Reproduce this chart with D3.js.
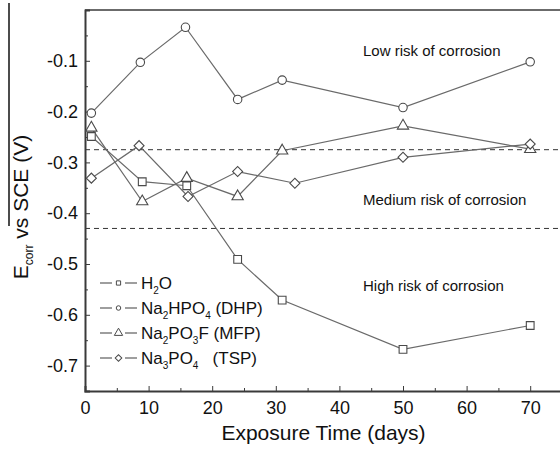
<!DOCTYPE html>
<html>
<head>
<meta charset="utf-8">
<script src="https://cdn.jsdelivr.net/npm/d3@7"></script>
<style>
  body { margin: 0; background: #fff; }
  svg { font-family: Arial, "Liberation Sans", sans-serif; }
</style>
</head>
<body>
<div id="chart"></div>
<script>
// Corrosion potential vs exposure time
const h2oDays = [1, 9, 16, 24, 31, 50, 70];
const h2oE = [-0.249, -0.338, -0.346, -0.491, -0.571, -0.668, -0.621];
const dhpDays = [1, 8.7, 15.8, 24, 31, 50, 70];
const dhpE = [-0.203, -0.103, -0.034, -0.176, -0.138, -0.192, -0.102];
const mfpDays = [1, 9, 16, 24, 31, 50, 70];
const mfpE = [-0.232, -0.377, -0.331, -0.367, -0.277, -0.228, -0.274];
const tspDays = [1, 8.5, 16.2, 24, 33, 50, 70];
const tspE = [-0.331, -0.267, -0.367, -0.318, -0.341, -0.290, -0.264];

const thresholds = [-0.275, -0.43];
const zoneLabels = [
  { text: "Low risk of corrosion", v: -0.09 },
  { text: "Medium risk of corrosion", v: -0.383 },
  { text: "High risk of corrosion", v: -0.553 }
];
const xTicks = [0, 10, 20, 30, 40, 50, 60, 70];
const yTicks = [-0.1, -0.2, -0.3, -0.4, -0.5, -0.6, -0.7];

const series = [
  { name: "H2O", days: h2oDays, values: h2oE, symbol: "square" },
  { name: "DHP", days: dhpDays, values: dhpE, symbol: "circle" },
  { name: "MFP", days: mfpDays, values: mfpE, symbol: "triangle" },
  { name: "TSP", days: tspDays, values: tspE, symbol: "diamond" }
];

const width = 560, height = 449;
const margin = { top: 10, left: 85, bottom: 58 };

const svg = d3.select("#chart").append("svg")
  .attr("width", width)
  .attr("height", height);

const x = d3.scaleLinear().domain([0, 75]).range([margin.left, 562]);
const y = d3.scaleLinear().domain([-0.75, 0]).range([height - margin.bottom, margin.top]);

const axisColor = "#3a3a3a";

// top border
svg.append("line")
  .attr("x1", x(0)).attr("x2", x(75))
  .attr("y1", y(0)).attr("y2", y(0))
  .attr("stroke", axisColor).attr("stroke-width", 1.5);

// threshold lines
svg.selectAll(".thr").data(thresholds).enter().append("line")
  .attr("x1", x(0)).attr("x2", x(75))
  .attr("y1", d => y(d)).attr("y2", d => y(d))
  .attr("stroke", "#333").attr("stroke-width", 1)
  .attr("stroke-dasharray", "5,4");

// zone labels
svg.selectAll(".zone").data(zoneLabels).enter().append("text")
  .attr("x", 363)
  .attr("y", d => y(d.v))
  .attr("font-size", 15)
  .attr("fill", "#111")
  .text(d => d.text);

// x axis
const xAxis = svg.append("g")
  .attr("transform", `translate(0,${y(-0.75)})`)
  .call(d3.axisBottom(x).tickValues(xTicks).tickSize(-5).tickPadding(10).tickFormat(d3.format("d")));
svg.append("g")
  .attr("transform", `translate(0,${y(-0.75)})`)
  .call(d3.axisBottom(x).tickValues(d3.range(5, 75, 10)).tickSize(-3).tickFormat(""))
  .call(g => g.select(".domain").remove());
xAxis.select(".domain").attr("stroke-width", 2);
xAxis.selectAll("text").attr("font-size", 18).attr("fill", "#111");

// y axis
const yAxis = svg.append("g")
  .attr("transform", `translate(${x(0)},0)`)
  .call(d3.axisLeft(y).tickValues(yTicks).tickSize(-5).tickPadding(7).tickFormat(d3.format(".1f")));
svg.append("g")
  .attr("transform", `translate(${x(0)},0)`)
  .call(d3.axisLeft(y).tickValues(d3.range(-0.05, -0.75, -0.1)).tickSize(-3).tickFormat(""))
  .call(g => g.select(".domain").remove());
yAxis.select(".domain").attr("stroke-width", 2);
yAxis.selectAll("text").attr("font-size", 18).attr("fill", "#111")
  .text(d => d3.format(".1f")(d).replace("−", "-"));

svg.selectAll(".tick line").attr("stroke", axisColor);
svg.selectAll(".domain").attr("stroke", axisColor);

// axis titles
svg.append("text")
  .attr("x", (x(0) + x(75)) / 2)
  .attr("y", 440)
  .attr("text-anchor", "middle")
  .attr("font-size", 21)
  .attr("fill", "#111")
  .text("Exposure Time (days)");

const yTitle = svg.append("text")
  .attr("transform", "translate(28,207) rotate(-90)")
  .attr("text-anchor", "middle")
  .attr("font-size", 21)
  .attr("fill", "#111");
yTitle.append("tspan").text("E");
yTitle.append("tspan").attr("font-size", 12).attr("dy", 5).text("corr");
yTitle.append("tspan").attr("dy", -5).text(" vs SCE (V)");

// stray overline at the left edge
svg.append("line")
  .attr("x1", 9).attr("x2", 9)
  .attr("y1", 3).attr("y2", 226)
  .attr("stroke", "#111").attr("stroke-width", 1.5);

// markers
const symbolTypes = {
  square: d3.symbolSquare,
  circle: d3.symbolCircle,
  triangle: d3.symbolTriangle,
  diamond: d3.symbolSquare
};
const symbolSizes = { square: 60, circle: 56, triangle: 55, diamond: 50 };

const line = d3.line().x(d => x(d[0])).y(d => y(d[1]));

series.forEach(s => {
  const pts = s.days.map((d, i) => [d, s.values[i]]);
  svg.append("path")
    .datum(pts)
    .attr("fill", "none")
    .attr("stroke", "#6a6a6a")
    .attr("stroke-width", 1.2)
    .attr("d", line);
});

series.forEach(s => {
  const pts = s.days.map((d, i) => [d, s.values[i]]);
  svg.selectAll(null).data(pts).enter().append("path")
    .attr("transform", d => `translate(${x(d[0])},${y(d[1])})` + (s.symbol === "diamond" ? " rotate(45)" : ""))
    .attr("d", d3.symbol().type(symbolTypes[s.symbol]).size(symbolSizes[s.symbol]))
    .attr("fill", "#fff")
    .attr("stroke", "#4a4a4a")
    .attr("stroke-width", 1.1);
});

// legend
const legendLabels = [
  [["H", 0], ["2", 1], ["O", 0]],
  [["Na", 0], ["2", 1], ["HPO", 0], ["4", 1], [" (DHP)", 0]],
  [["Na", 0], ["2", 1], ["PO", 0], ["3", 1], ["F (MFP)", 0]],
  [["Na", 0], ["3", 1], ["PO", 0], ["4", 1], ["\u00a0\u00a0\u00a0(TSP)", 0]]
];
const legendSizes = { square: 18, circle: 16, triangle: 30, diamond: 22 };

const legend = svg.append("g");
series.forEach((s, i) => {
  const row = legend.append("g").attr("transform", `translate(0,${283 + i * 25})`);
  [[100, 112], [125, 137]].forEach(([a, b]) => {
    row.append("line")
      .attr("x1", a).attr("x2", b)
      .attr("stroke", "#6a6a6a").attr("stroke-width", 1.3);
  });
  row.append("path")
    .attr("transform", `translate(118.5,0)` + (s.symbol === "diamond" ? " rotate(45)" : ""))
    .attr("d", d3.symbol().type(symbolTypes[s.symbol]).size(legendSizes[s.symbol]))
    .attr("fill", "#fff")
    .attr("stroke", "#4a4a4a")
    .attr("stroke-width", 1);
  const t = row.append("text")
    .attr("x", 141).attr("y", 6)
    .attr("font-size", 17)
    .attr("fill", "#111");
  let sub = 0;
  legendLabels[i].forEach(([txt, isSub]) => {
    const dy = isSub ? (sub ? 0 : 5) : (sub ? -5 : 0);
    sub = isSub;
    t.append("tspan")
      .attr("dy", dy)
      .attr("font-size", isSub ? 10 : 17)
      .text(txt);
  });
});
</script>
</body>
</html>
